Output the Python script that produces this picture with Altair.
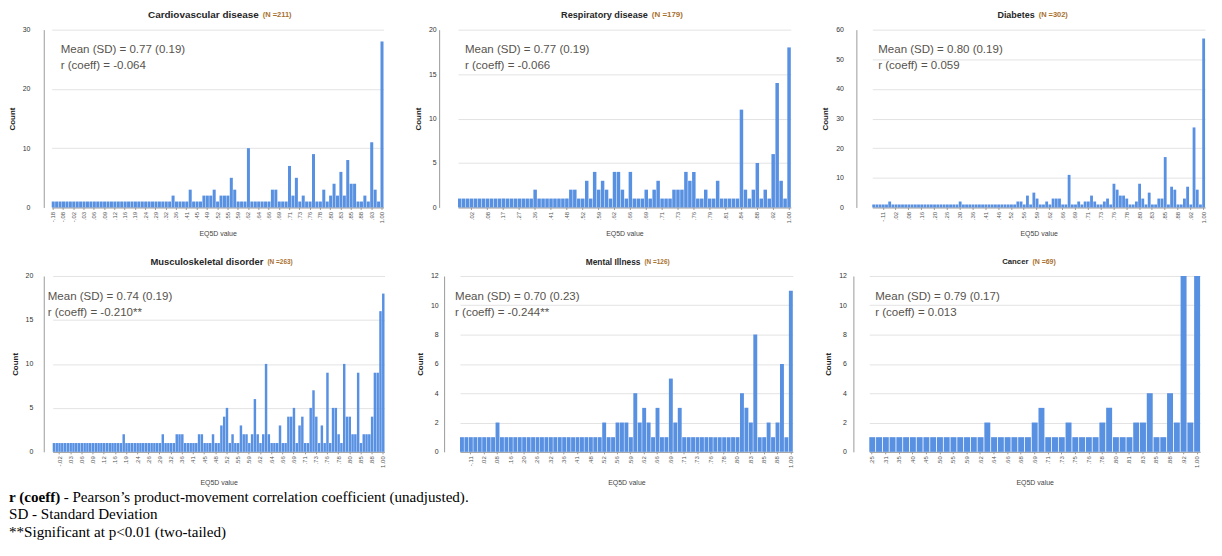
import json
import altair as alt
import pandas as pd

# ---------------- data ----------------
DISEASES = ["Cardiovascular disease", "Respiratory disease", "Diabetes",
            "Musculoskeletal disorder", "Mental Illness", "Cancer"]
N_LABELS = ["(N =211)", "(N =179)", "(N =302)", "(N =263)", "(N =126)", "(N =69)"]
MEAN_SD = ["Mean (SD) = 0.77 (0.19)", "Mean (SD) = 0.77 (0.19)", "Mean (SD) = 0.80 (0.19)",
           "Mean (SD) = 0.74 (0.19)", "Mean (SD) = 0.70 (0.23)", "Mean (SD) = 0.79 (0.17)"]
R_COEFF = ["r (coeff) = -0.064", "r (coeff) = -0.066", "r (coeff) = 0.059",
           "r (coeff) = -0.210**", "r (coeff) = -0.244**", "r (coeff) = 0.013"]

CARDIO = [1, 1, 1, 1, 1, 1, 1, 1, 1, 1, 1, 1, 1, 1, 1, 1, 1, 1, 1, 1,
          1, 1, 1, 1, 1, 1, 1, 1, 1, 1, 1, 1, 1, 1, 1, 2, 1, 1, 1, 1,
          3, 1, 1, 1, 2, 2, 2, 3, 1, 2, 2, 2, 5, 3, 1, 1, 1, 10, 1, 1,
          1, 1, 1, 1, 3, 3, 1, 1, 1, 7, 2, 5, 1, 2, 1, 1, 9, 1, 1, 3,
          1, 2, 4, 2, 6, 2, 8, 4, 4, 1, 1, 2, 1, 11, 3, 1, 28]
RESP = [1, 1, 1, 1, 1, 1, 1, 1, 1, 1, 1, 1, 1, 1, 1, 1, 1, 1, 1, 2,
        1, 1, 1, 1, 1, 1, 1, 1, 2, 2, 1, 1, 3, 1, 4, 2, 3, 2, 1, 4,
        4, 2, 1, 4, 1, 1, 1, 2, 1, 2, 3, 1, 1, 1, 2, 2, 2, 4, 3, 4,
        1, 1, 2, 1, 1, 3, 1, 1, 1, 1, 1, 11, 2, 1, 2, 5, 1, 2, 1, 6,
        14, 3, 1, 18]
DIAB = [1, 1, 1, 1, 1, 2, 1, 1, 1, 1, 1, 1, 1, 1, 1, 1, 1, 1, 1, 1,
        1, 1, 1, 1, 1, 1, 1, 2, 1, 1, 1, 1, 1, 1, 1, 1, 1, 1, 1, 1,
        1, 1, 1, 1, 1, 2, 2, 1, 4, 1, 5, 3, 1, 1, 2, 1, 3, 3, 3, 1,
        1, 11, 1, 1, 2, 1, 2, 2, 4, 2, 1, 1, 2, 3, 1, 8, 6, 4, 4, 3,
        1, 1, 2, 8, 3, 1, 5, 1, 1, 3, 3, 17, 1, 7, 6, 1, 1, 3, 7, 1,
        27, 6, 1, 57]
MSK = [1, 1, 1, 1, 1, 1, 1, 1, 1, 1, 1, 1, 1, 1, 1, 1, 1, 1, 1, 1,
       1, 1, 1, 1, 1, 2, 1, 1, 1, 1, 1, 1, 1, 1, 1, 1, 1, 1, 1, 2,
       1, 1, 1, 1, 2, 2, 2, 1, 1, 1, 1, 1, 2, 2, 1, 1, 1, 2, 1, 1,
       3, 4, 5, 1, 2, 1, 1, 3, 2, 2, 1, 2, 6, 2, 1, 2, 10, 2, 1, 1,
       1, 3, 1, 1, 4, 4, 5, 1, 3, 4, 1, 1, 5, 7, 4, 1, 3, 1, 9, 1,
       5, 5, 2, 1, 10, 4, 4, 2, 2, 9, 1, 2, 2, 2, 4, 9, 9, 16, 18]
MENTAL = [1, 1, 1, 1, 1, 1, 1, 1, 2, 1, 1, 1, 1, 1, 1, 1, 1, 1, 1,
          1, 1, 1, 1, 1, 1, 1, 1, 1, 1, 1, 1, 1, 2, 1, 1, 2, 2, 2, 1,
          4, 2, 3, 2, 1, 3, 1, 1, 5, 2, 3, 1, 1, 1, 1, 1, 1, 1, 1, 1,
          1, 1, 1, 1, 4, 3, 2, 8, 1, 1, 2, 1, 2, 6, 1, 11]
CANCER = [1, 1, 1, 1, 1, 1, 1, 1, 1, 1, 1, 1, 1, 1, 1, 1, 1, 2, 1, 1,
          1, 1, 1, 1, 2, 3, 1, 1, 1, 2, 1, 1, 1, 1, 2, 3, 1, 1, 1, 2,
          2, 4, 1, 1, 4, 2, 12, 2, 12]

CARDIO_TICKS = ["-.18", "-.08", "-.02", ".03", ".06", ".09", ".12", ".16", ".19", ".24", ".29",
                ".32", ".36", ".41", ".45", ".49", ".52", ".55", ".59", ".62", ".64", ".66",
                ".69", ".71", ".73", ".76", ".78", ".80", ".83", ".85", ".88", ".93", "1.00"]
RESP_TICKS = [".02", ".08", ".17", ".27", ".36", ".41", ".48", ".52", ".59", ".62", ".66",
              ".69", ".71", ".73", ".76", ".79", ".81", ".84", ".88", ".92", "1.00"]
DIAB_TICKS = ["-.11", ".02", ".08", ".16", ".20", ".26", ".30", ".36", ".41", ".46", ".52",
              ".56", ".59", ".62", ".66", ".69", ".71", ".73", ".76", ".78", ".80", ".83",
              ".85", ".88", ".92", "1.00"]
MSK_TICKS = ["-.02", ".03", ".06", ".09", ".12", ".16", ".19", ".24", ".26", ".29", ".32",
             ".36", ".41", ".45", ".48", ".52", ".55", ".59", ".62", ".64", ".66", ".69",
             ".71", ".73", ".76", ".78", ".80", ".85", ".88", "1.00"]
MENTAL_TICKS = ["-.11", ".02", ".08", ".16", ".20", ".26", ".32", ".36", ".41", ".48", ".52",
                ".56", ".59", ".62", ".66", ".69", ".71", ".73", ".76", ".78", ".80", ".83",
                ".85", ".88", "1.00"]
CANCER_TICKS = [".25", ".31", ".35", ".40", ".45", ".50", ".55", ".59", ".62", ".64", ".66",
                ".68", ".69", ".71", ".73", ".75", ".76", ".78", ".80", ".81", ".83", ".85",
                ".88", ".92", "1.00"]

Y_MAX = [30, 20, 60, 20, 12, 12]
Y_STEP = [10, 5, 10, 5, 2, 2]

FOOT_BOLD = "r (coeff)"
FOOT_LINE1 = " - Pearson\u2019s product-movement correlation coefficient (unadjusted)."
FOOT_LINE2 = "SD - Standard Deviation"
FOOT_LINE3 = "**Significant at p<0.01 (two-tailed)"

# ---------------- styling / layout ----------------
SANS = "Liberation Sans"
SERIF = "Liberation Serif"
BAR = "#5890E2"

SERIES = [CARDIO, RESP, DIAB, MSK, MENTAL, CANCER]
TICKS = [CARDIO_TICKS, RESP_TICKS, DIAB_TICKS, MSK_TICKS, MENTAL_TICKS, CANCER_TICKS]
TICK_EVERY = [3, 4, 4, 4, 3, 2]
WIDTHS = [360, 372, 360, 361, 369, 360]
HEIGHTS = [179, 179, 179, 177, 177, 177]
PAD_L = [8, 19, 16, 9, 16, 16]
PAD_R = [18, 18, 9, 18, 18, 11]
YLAB_PAD = [14, 3, 13, 11, 6, 7]
ANN_DX = [17, 26, 22, 4, 11, 22]
T_SIZE = [10, 9.2, 9, 9.5, 8.4, 7.8]
N_SIZE = [7.5, 8, 7.5, 6.5, 6.5, 7]
XTITLE_PAD = [7, 7, 7, 11, 11, 11]
FOOT_X = -35


def one(text):
    return pd.DataFrame({"t": [text]})


def panel(k):
    counts = SERIES[k]
    ticks = TICKS[k]
    step = TICK_EVERY[k]
    width, height = WIDTHS[k], HEIGHTS[k]
    n = len(counts)
    df = pd.DataFrame({"bin": list(range(n)), "count": counts})
    off = (n - 1) % step
    pos = list(range(off, n, step))
    labs = [""] * n
    for j, p in enumerate(pos):
        if j < len(ticks):
            labs[p] = ticks[j]
    label_expr = json.dumps(labs) + "[datum.value]"

    bars = alt.Chart(df).mark_bar(color=BAR).encode(
        x=alt.X("bin:O",
                scale=alt.Scale(range=[PAD_L[k], width - PAD_R[k]], paddingInner=0.12, paddingOuter=0),
                axis=alt.Axis(values=pos, labelExpr=label_expr, labelAngle=270, labelFontSize=6,
                              labelColor="#555555", labelFont=SANS, labelPadding=2, tickSize=2,
                              tickColor="#999999", domainColor="#9a9a9a", title="EQ5D value",
                              titleFont=SANS, titleFontSize=7, titleFontWeight="normal",
                              titleColor="#444444", titlePadding=XTITLE_PAD[k], grid=False)),
        y=alt.Y("count:Q",
                scale=alt.Scale(domain=[0, Y_MAX[k]], nice=False),
                axis=alt.Axis(values=list(range(0, Y_MAX[k] + 1, Y_STEP[k])), title="Count",
                              titleFont=SANS, titleFontSize=8, titleFontWeight="bold",
                              titleColor="#222222", titlePadding=6, labelFont=SANS,
                              labelFontSize=7, labelColor="#333333", labelPadding=YLAB_PAD[k],
                              tickSize=0, domainColor="#9a9a9a", grid=True,
                              gridColor="#e3e3e3", format="d")),
    )

    tw = len(DISEASES[k]) * T_SIZE[k] * 0.5
    nw = len(N_LABELS[k]) * N_SIZE[k] * 0.55
    left = width / 2 - (tw + 4 + nw) / 2
    ty = -15 if k < 3 else -14
    title = alt.Chart(one(DISEASES[k])).mark_text(
        align="right", baseline="middle", font=SANS, fontSize=T_SIZE[k], fontWeight="bold",
        color="#262626").encode(text="t:N", x=alt.value(left + tw), y=alt.value(ty))
    ntext = alt.Chart(one(N_LABELS[k])).mark_text(
        align="left", baseline="middle", font=SANS, fontSize=N_SIZE[k], fontWeight="bold",
        color="#A8702E").encode(text="t:N", x=alt.value(left + tw + 4), y=alt.value(ty))
    ann = alt.Chart(one(MEAN_SD[k] + "\n" + R_COEFF[k])).mark_text(
        align="left", baseline="middle", font=SANS, fontSize=11.6, lineBreak="\n", lineHeight=16,
        color="#57534d").encode(text="t:N", x=alt.value(ANN_DX[k]), y=alt.value(21))
    return alt.layer(bars, title, ntext, ann).properties(width=width, height=height)


row1 = alt.hconcat(panel(0), panel(1), panel(2), spacing=13)
row2 = alt.hconcat(panel(3), panel(4), panel(5), spacing=14)

FOOT_SIZE = 15.2
foot = alt.layer(
    alt.Chart(one(FOOT_BOLD)).mark_text(align="left", baseline="middle", font=SERIF, fontSize=FOOT_SIZE,
                                        fontWeight="bold", color="#000000").encode(
        text="t:N", x=alt.value(FOOT_X), y=alt.value(8)),
    alt.Chart(one(FOOT_LINE1)).mark_text(align="left", baseline="middle", font=SERIF, fontSize=FOOT_SIZE,
                                         color="#000000").encode(
        text="t:N", x=alt.value(FOOT_X + 55), y=alt.value(8)),
    alt.Chart(one(FOOT_LINE2)).mark_text(align="left", baseline="middle", font=SERIF, fontSize=FOOT_SIZE,
                                         color="#000000").encode(
        text="t:N", x=alt.value(FOOT_X), y=alt.value(26)),
    alt.Chart(one(FOOT_LINE3)).mark_text(align="left", baseline="middle", font=SERIF, fontSize=FOOT_SIZE,
                                         color="#000000").encode(
        text="t:N", x=alt.value(FOOT_X), y=alt.value(44)),
).properties(width=500, height=50)

chart = alt.vconcat(
    alt.vconcat(row1, row2, spacing=20),
    foot,
    spacing=3,
).properties(
    padding={"left": 0, "top": 0, "right": 0, "bottom": 0},
    background="white",
).configure_view(stroke=None)

chart.save("out.html", embed_options={"renderer": "svg", "actions": False})
